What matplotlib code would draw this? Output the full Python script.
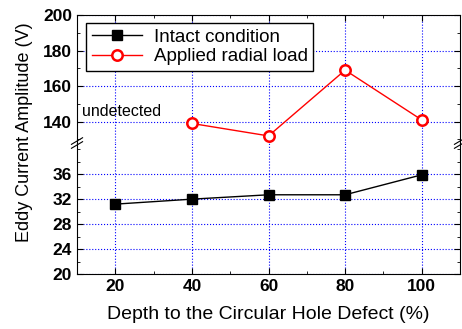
import matplotlib
matplotlib.use("Agg")
import matplotlib.pyplot as plt
from matplotlib.ticker import MultipleLocator

plt.rcParams['font.family'] = ['Liberation Sans', 'DejaVu Sans']

depth = [20, 40, 60, 80, 100]
intact = [31.2, 32.0, 32.7, 32.7, 35.9]
load_depth = [40, 60, 80, 100]
load = [139, 132, 169, 141]

fig = plt.figure(figsize=(4.62, 3.29), dpi=100)
ax_lo = fig.add_axes([0.1667, 0.1672, 0.829, 0.3981])
ax_hi = fig.add_axes([0.1667, 0.5653, 0.829, 0.3891], sharex=ax_lo)

for ax in (ax_lo, ax_hi):
    ax.plot(depth, intact, color='black', lw=1, marker='s', ms=7.5,
            mfc='black', mec='black', label='Intact condition')
    ax.plot(load_depth, load, color='red', lw=1, marker='o', ms=7.5,
            mfc='white', mec='red', mew=1.8, label='Applied radial load')
    ax.grid(True, which='major', color='blue', ls=':', lw=0.8)
    ax.tick_params(which='both', direction='in', top=True, right=True)
    ax.tick_params(which='major', length=4, labelsize=12.5)
    ax.tick_params(which='minor', length=2.5)

ax_lo.set_xlim(10, 110)
ax_lo.xaxis.set_major_locator(MultipleLocator(20))
ax_lo.xaxis.set_minor_locator(MultipleLocator(10))

ax_lo.set_ylim(20, 41)
ax_lo.set_yticks([20, 24, 28, 32, 36])
ax_lo.yaxis.set_minor_locator(MultipleLocator(2))
ax_lo.spines['top'].set_visible(False)
ax_lo.tick_params(top=False, which='both')

ax_hi.set_ylim(128, 200)
ax_hi.set_yticks([140, 160, 180, 200])
ax_hi.yaxis.set_minor_locator(MultipleLocator(10))
ax_hi.spines['bottom'].set_visible(False)
ax_hi.tick_params(bottom=False, labelbottom=False, which='both')

for lab in ax_lo.get_yticklabels() + ax_lo.get_xticklabels() + ax_hi.get_yticklabels():
    lab.set_fontweight('bold')

ax_hi.text(11.2, 145.5, 'undetected', fontsize=11.5, va='center', ha='left')

# break marks
yb = 0.5653
for xb in (0.1667, 0.9957):
    for dy in (-0.006, 0.006):
        fig.add_artist(plt.Line2D([xb - 0.012, xb + 0.012], [yb + dy - 0.01, yb + dy + 0.01],
                                  color='black', lw=0.8))

leg = ax_hi.legend(loc='upper left', bbox_to_anchor=(0.0235, 0.9375), borderaxespad=0,
                   fontsize=13.5, fancybox=False, framealpha=1, edgecolor='black',
                   handlelength=2.7, handletextpad=0.6, borderpad=0.3, labelspacing=0.12)
leg.get_frame().set_linewidth(1)

fig.text(0.58, 0.043, 'Depth to the Circular Hole Defect (%)', fontsize=14,
         va='center', ha='center')
fig.text(0.052, 0.598, 'Eddy Current Amplitude (V)', rotation=90, fontsize=13,
         va='center', ha='center')

fig.savefig('out.png', dpi=100)
